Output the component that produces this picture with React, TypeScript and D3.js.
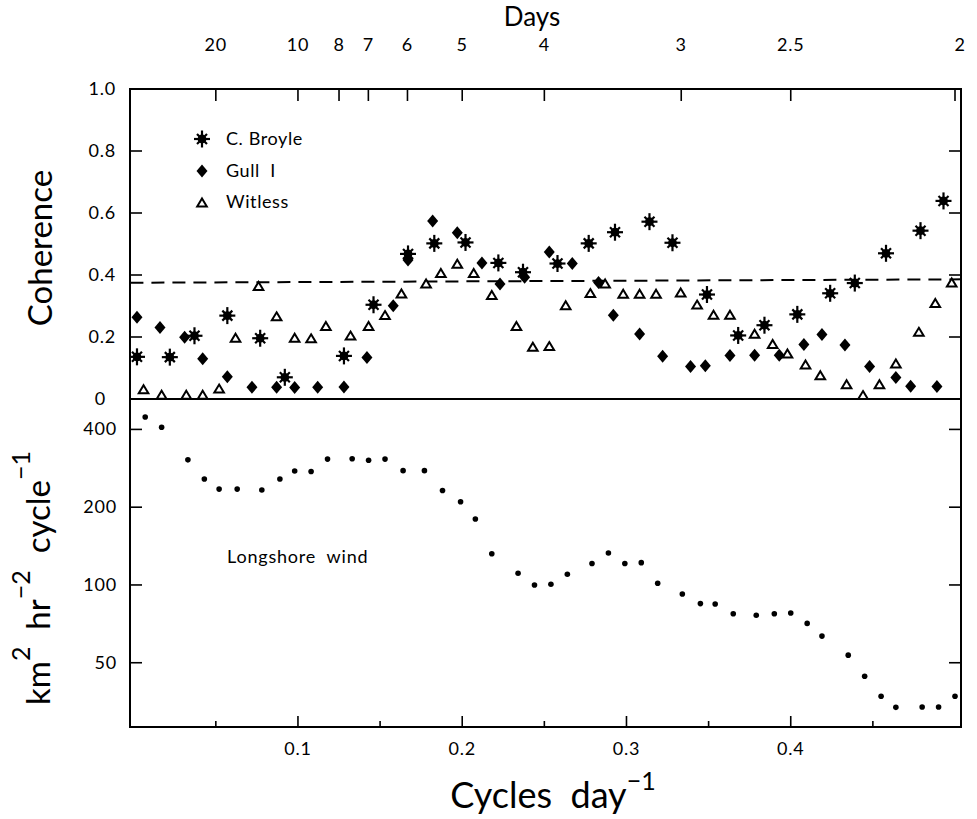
import React from "react";
import * as d3 from "d3";

// ---------- data ----------
const broyleF = [0.002,0.022,0.037,0.057,0.077,0.092,0.128,0.146,0.167,0.183,0.202,0.222,0.237,0.258,0.277,0.293,0.314,0.328,0.349,0.368,0.384,0.404,0.424,0.439,0.458,0.479,0.493];
const broyleV = [0.136,0.135,0.204,0.269,0.196,0.07,0.139,0.304,0.468,0.502,0.505,0.439,0.409,0.437,0.502,0.538,0.572,0.504,0.337,0.205,0.238,0.273,0.341,0.374,0.470,0.543,0.639];

const gullF = [0.002,0.016,0.031,0.042,0.057,0.072,0.087,0.098,0.112,0.128,0.142,0.158,0.167,0.182,0.197,0.212,0.223,0.238,0.253,0.267,0.283,0.292,0.308,0.322,0.339,0.348,0.363,0.378,0.393,0.408,0.419,0.433,0.448,0.464,0.473,0.489];
const gullV = [0.264,0.231,0.199,0.130,0.072,0.038,0.038,0.037,0.038,0.039,0.134,0.301,0.448,0.574,0.536,0.439,0.371,0.393,0.474,0.437,0.376,0.270,0.210,0.138,0.105,0.107,0.140,0.141,0.141,0.176,0.208,0.174,0.105,0.069,0.041,0.040];

const witlessF = [0.006,0.017,0.032,0.042,0.052,0.062,0.076,0.087,0.098,0.108,0.117,0.132,0.143,0.153,0.163,0.178,0.187,0.197,0.207,0.218,0.233,0.243,0.253,0.263,0.278,0.287,0.298,0.308,0.318,0.333,0.343,0.353,0.363,0.378,0.389,0.398,0.409,0.418,0.434,0.444,0.454,0.464,0.478,0.488,0.498];
const witlessV = [0.030,0.012,0.012,0.012,0.032,0.196,0.363,0.265,0.196,0.194,0.234,0.203,0.234,0.269,0.339,0.371,0.405,0.435,0.405,0.334,0.234,0.167,0.169,0.301,0.340,0.371,0.338,0.338,0.338,0.342,0.303,0.270,0.270,0.209,0.176,0.145,0.110,0.075,0.046,0.011,0.046,0.113,0.215,0.308,0.374];

const windF = [0.007,0.017,0.033,0.043,0.052,0.063,0.078,0.089,0.098,0.108,0.118,0.133,0.143,0.153,0.164,0.177,0.188,0.199,0.208,0.218,0.234,0.244,0.254,0.264,0.279,0.289,0.299,0.309,0.319,0.334,0.345,0.354,0.365,0.379,0.390,0.400,0.410,0.419,0.435,0.445,0.455,0.464,0.480,0.490,0.500];
const windV = [447,408,305,257,235,235,233,257,276,275,307,308,304,307,277,277,232,210,180,132,111,100,100.6,110,121,133,121,122,101.5,92.3,84.7,84.4,77.4,76.3,77.4,77.9,71,63.4,53.5,44.3,37.1,33.6,33.7,33.7,37.1];

const sigF = [-0.002, 0.504];
const sigV = [0.375, 0.386];

const dayTicks = [20, 10, 8, 7, 6, 5, 4, 3, 2.5, 2];
const freqTicks = [0.05, 0.1, 0.15, 0.2, 0.25, 0.3, 0.35, 0.4, 0.45];
const freqLabels = [0.1, 0.2, 0.3, 0.4];
const cohTicks = [0, 0.2, 0.4, 0.6, 0.8, 1.0];
const specTicks = [50, 100, 200, 400];

const legendItems = ["C. Broyle", "Gull  I", "Witless"];

// ---------- layout ----------
const W = 977, H = 819;
const L = 130, R = 961, T = 89, MID = 399, B = 727;
const FONT = "Lato, 'Open Sans', sans-serif";

const x = d3.scaleLinear().domain([0, 0.5]).range([133.7, 955]);
const yc = d3.scaleLinear().domain([0, 1]).range([MID, T]);
const ys = d3.scaleLog().domain([28.2, 524.5]).range([B, MID]);

const Star = ({ cx, cy }: { cx: number; cy: number }) => (
  <g transform={`translate(${cx},${cy})`} stroke="#000" strokeWidth={2.2}>
    <line x1={-8} y1={0} x2={8} y2={0} />
    <line x1={0} y1={-8.5} x2={0} y2={8.5} />
    <line x1={-5} y1={-5} x2={5} y2={5} />
    <line x1={-5} y1={5} x2={5} y2={-5} />
    <circle r={4.4} fill="#000" stroke="none" />
  </g>
);
const Diamond = ({ cx, cy }: { cx: number; cy: number }) => (
  <path transform={`translate(${cx},${cy})`} d="M0,-6.5L5.5,0L0,6.5L-5.5,0Z" fill="#000" />
);
const Tri = ({ cx, cy }: { cx: number; cy: number }) => (
  <path transform={`translate(${cx},${cy})`} d="M0,-4.5L4.8,3.5L-4.8,3.5Z" fill="#fff" stroke="#000" strokeWidth={2} strokeLinejoin="miter" />
);

const pre = { whiteSpace: "pre" as const };

export default function App() {
  const sigLine = d3.line<number>().x((_, i) => x(sigF[i])).y((d) => yc(d))(sigV) || "";
  return (
    <svg width={W} height={H} style={{ position: "absolute", left: 0, top: 0, background: "#fff" }} fontFamily={FONT}>
      <rect width={W} height={H} fill="#fff" />
      {/* frame */}
      <g stroke="#000" strokeWidth={2} fill="none">
        <rect x={L} y={T} width={R - L} height={B - T} />
        <line x1={L} y1={MID} x2={R} y2={MID} />
      </g>

      {/* top axis: days */}
      <text x={532} y={26} fontSize={26} textAnchor="middle">Days</text>
      {dayTicks.map((d) => (
        <g key={d}>
          <line x1={x(1 / d)} y1={T} x2={x(1 / d)} y2={T + 12} stroke="#000" strokeWidth={1.6} />
          <text x={x(1 / d) + (d === 2 ? 5 : 0)} y={51} fontSize={18} letterSpacing={0.8} textAnchor="middle">{d}</text>
        </g>
      ))}

      {/* coherence y axis */}
      {cohTicks.map((t) => (
        <g key={t}>
          <line x1={L} y1={yc(t)} x2={L + 12} y2={yc(t)} stroke="#000" strokeWidth={1.6} />
          <line x1={R - 12} y1={yc(t)} x2={R} y2={yc(t)} stroke="#000" strokeWidth={1.6} />
          <text x={t === 0 ? 106 : 116} y={yc(t) + 6} fontSize={18} letterSpacing={0.8} textAnchor="end">{t === 0 ? "0" : t.toFixed(1)}</text>
        </g>
      ))}
      <text transform="translate(52,248) rotate(-90)" fontSize={33} textAnchor="middle">Coherence</text>

      {/* spectrum y axis */}
      {specTicks.map((t) => (
        <g key={t}>
          <line x1={L} y1={ys(t)} x2={L + 12} y2={ys(t)} stroke="#000" strokeWidth={1.6} />
          <line x1={R - 12} y1={ys(t)} x2={R} y2={ys(t)} stroke="#000" strokeWidth={1.6} />
          <text x={117} y={ys(t) + 6} fontSize={18} letterSpacing={0.8} textAnchor="end">{t}</text>
        </g>
      ))}
      <text transform="translate(50,578) rotate(-90)" fontSize={33} textAnchor="middle" style={pre}>
        km<tspan dy={-20} fontSize={25}>2</tspan>
        <tspan dy={20}>  hr</tspan><tspan dy={-20} fontSize={25}>−2</tspan>
        <tspan dy={20}>  cycle</tspan><tspan dy={-20} fontSize={25}>−1</tspan>
      </text>

      {/* bottom axis */}
      {freqTicks.map((t) => {
        const major = Math.abs((t * 10) - Math.round(t * 10)) < 1e-6;
        return <line key={t} x1={x(t)} y1={B} x2={x(t)} y2={B - (major ? 11 : 6)} stroke="#000" strokeWidth={1.6} />;
      })}
      {freqLabels.map((t) => (
        <text key={t} x={x(t)} y={755} fontSize={18} letterSpacing={0.8} textAnchor="middle">{t.toFixed(1)}</text>
      ))}
      <text x={553} y={808} fontSize={36} textAnchor="middle" style={pre}>
        Cycles  day<tspan dy={-18} fontSize={25}>−1</tspan>
      </text>

      {/* significance line */}
      <path d={sigLine} stroke="#000" strokeWidth={2} strokeDasharray="13,8" fill="none" />

      {/* coherence series */}
      {witlessF.map((f, i) => <Tri key={"w" + i} cx={x(f)} cy={yc(witlessV[i])} />)}
      {gullF.map((f, i) => <Diamond key={"g" + i} cx={x(f)} cy={yc(gullV[i])} />)}
      {broyleF.map((f, i) => <Star key={"b" + i} cx={x(f)} cy={yc(broyleV[i])} />)}

      {/* legend */}
      <Star cx={202} cy={139} />
      <Diamond cx={202} cy={171} />
      <Tri cx={202} cy={203} />
      {legendItems.map((s, i) => (
        <text key={s} x={226} y={145 + i * 31.5} fontSize={18} letterSpacing={0.6} style={pre}>{s}</text>
      ))}

      {/* spectrum */}
      {windF.map((f, i) => <circle key={"s" + i} cx={x(f)} cy={ys(windV[i])} r={2.8} fill="#000" />)}
      <text x={227} y={563} fontSize={18} letterSpacing={0.8} style={pre}>Longshore  wind</text>
    </svg>
  );
}
